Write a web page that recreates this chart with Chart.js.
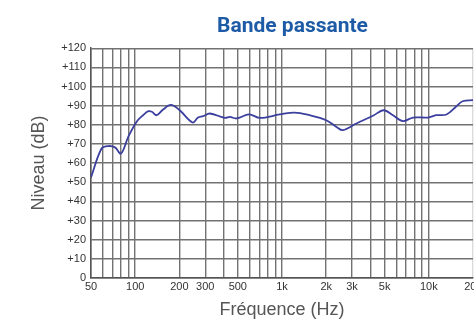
<!DOCTYPE html>
<html>
<head>
<meta charset="utf-8">
<script src="https://cdn.jsdelivr.net/npm/chart.js@4"></script>
<style>
  html, body { margin: 0; padding: 0; background: #fff; overflow: hidden; }
  #box { width: 474px; height: 321px; }
</style>
</head>
<body>
<div id="box"><canvas id="myChart"></canvas></div>
<script>
// frequency (Hz) and level (dB)
var freqs = [50, 59, 65.5, 72.8, 80, 89.7, 102, 113, 123, 130, 140, 155, 175, 201, 246, 268, 290, 323,
    408, 442, 490, 596, 707, 966, 1220, 1540, 2000, 2350, 2600, 3210, 4160, 4930, 5700, 6660, 7800,
    9850, 11200, 13200, 15300, 17000, 20000];
var levels = [52.5, 67.6, 68.9, 68.2, 65, 73.7, 81.5, 85, 87.1, 86.8, 85, 88, 90.4, 87.6, 81.2, 83.8, 84.5, 85.9,
    83.6, 84.1, 83.3, 85.4, 83.6, 85.4, 86.4, 85, 82.4, 78.9, 77.2, 80.7, 84.7, 87.6, 85, 81.9, 83.8,
    83.8, 85, 85.4, 89.4, 92.3, 92.9];

var gridFreqs = [50, 60, 70, 80, 90, 100, 200, 300, 400, 500, 600, 700, 800, 900, 1000,
    2000, 3000, 4000, 5000, 6000, 7000, 8000, 9000, 10000, 20000];
var freqLabels = {50: '50', 100: '100', 200: '200', 300: '300', 500: '500', 1000: '1k',
    2000: '2k', 3000: '3k', 5000: '5k', 10000: '10k', 20000: '20k'};

var points = freqs.map(function (f, i) { return {x: f, y: levels[i]}; });

// the title sits a bit right of centre in the original, nudge it over
var titleShift = {
    id: 'titleShift',
    afterLayout: function (chart) {
        if (chart.titleBlock) {
            chart.titleBlock.left += 42;
            chart.titleBlock.right += 42;
        }
    }
};

var ctx = document.getElementById('myChart').getContext('2d');
var chart = new Chart(ctx, {
    type: 'line',
    data: {
        datasets: [{
            data: points,
            borderColor: '#3b3f9e',
            borderWidth: 1.8,
            pointRadius: 0,
            tension: 0.35,
            fill: false
        }]
    },
    options: {
        responsive: true,
        maintainAspectRatio: false,
        animation: false,
        layout: { padding: { top: 14, right: 1, left: 28, bottom: 0 } },
        plugins: {
            legend: { display: false },
            tooltip: { enabled: false },
            title: {
                display: true,
                text: 'Bande passante',
                color: '#1d5ba6',
                font: { family: 'Roboto', size: 21, weight: 'bold' },
                padding: { top: 0, bottom: 9 }
            }
        },
        scales: {
            x: {
                type: 'logarithmic',
                min: 50,
                max: 20000,
                afterBuildTicks: function (scale) {
                    scale.ticks = gridFreqs.map(function (v) { return {value: v}; });
                },
                afterFit: function (scale) {
                    scale.height = 43;
                    // let the 20k label run off the edge like in the original
                    scale.paddingRight = 0;
                    scale.paddingLeft = 0;
                },
                ticks: {
                    autoSkip: false,
                    maxRotation: 0,
                    padding: 2,
                    color: '#333',
                    font: { family: 'Liberation Sans', size: 11 },
                    callback: function (v) { return freqLabels[v] || ''; }
                },
                grid: {
                    color: function (c) { return c.tick && c.tick.value === 20000 ? '#dcdcdc' : '#727272'; },
                    lineWidth: 1.4,
                    drawTicks: false
                },
                border: { color: '#555', width: 1.5 },
                title: {
                    display: true,
                    text: 'Fréquence (Hz)',
                    color: '#555',
                    font: { family: 'Liberation Sans', size: 18 },
                    padding: { top: 2, bottom: 0 }
                }
            },
            y: {
                min: 0,
                max: 120,
                afterFit: function (scale) { scale.width = 63; },
                ticks: {
                    stepSize: 10,
                    padding: 5,
                    color: '#333',
                    font: { family: 'Liberation Sans', size: 11 },
                    callback: function (v) { return v === 0 ? '0' : '+' + v; }
                },
                grid: { color: '#727272', lineWidth: 1.4, drawTicks: false },
                border: { color: '#555', width: 1.5 },
                title: {
                    display: true,
                    text: 'Niveau (dB)',
                    color: '#555',
                    font: { family: 'Liberation Sans', size: 18 },
                    padding: { top: 0, bottom: 0 }
                }
            }
        }
    },
    plugins: [titleShift]
});
</script>
</body>
</html>
